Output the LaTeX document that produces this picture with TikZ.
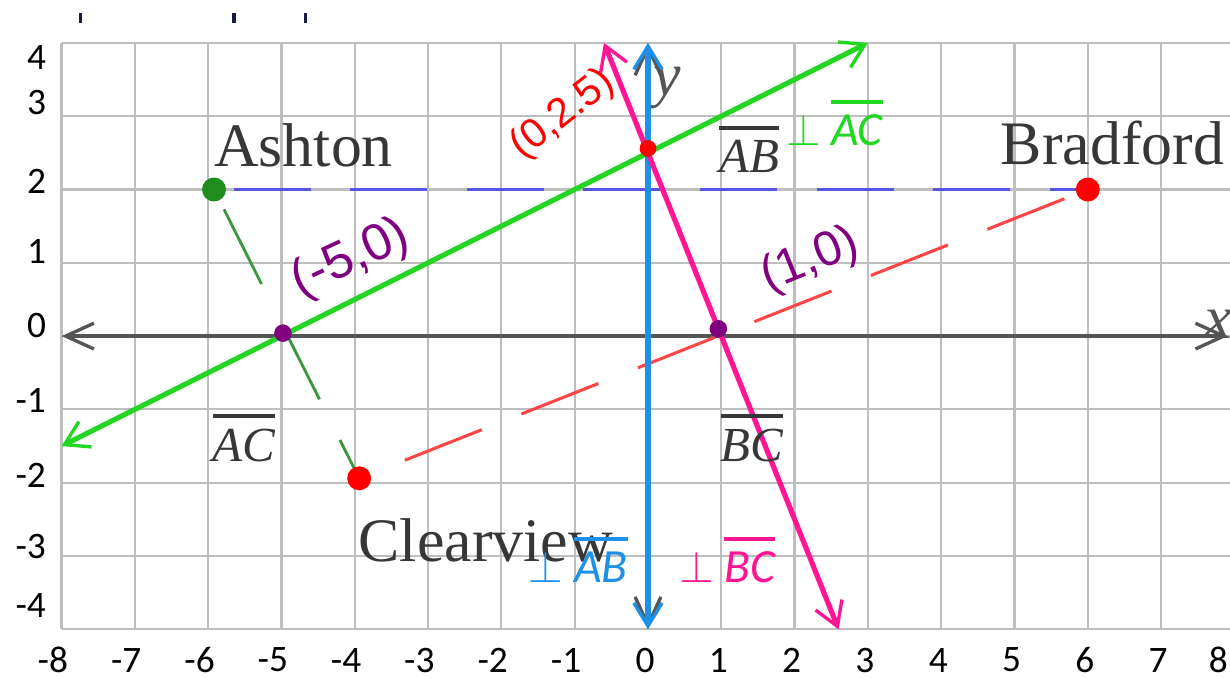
\documentclass[tikz,border=0pt]{standalone}
\usepackage{fontspec}
\setmainfont{Liberation Serif}
\newfontfamily\calfont{Carlito}
\newfontfamily\handfont{Liberation Sans}
\usetikzlibrary{arrows.meta}
\tikzset{every picture/.style={line width=0.75pt}}

\definecolor{gridgray}{RGB}{190,190,190}
\definecolor{axisgray}{RGB}{85,85,85}
\definecolor{labelgray}{RGB}{55,55,55}
\definecolor{linegreen}{RGB}{34,215,34}
\definecolor{linepink}{RGB}{255,20,147}
\definecolor{lineblue}{RGB}{30,144,230}
\definecolor{dashblue}{RGB}{85,85,225}
\definecolor{dashred}{RGB}{255,70,70}
\definecolor{dashgreen}{RGB}{60,150,60}
\definecolor{dotgreen}{RGB}{30,140,30}
\definecolor{handpurple}{RGB}{128,0,128}
\definecolor{marknavy}{RGB}{25,25,70}

% overlined segment name
\newcommand\segbar[1]{\vbox{\hrule height 1.5pt\kern 0.22em\hbox{#1}}}

\tikzset{
  town/.style={circle,fill,inner sep=0pt,minimum size=9.3pt},
  handdot/.style={circle,fill=handpurple,inner sep=0pt,minimum size=6.8pt},
  townname/.style={font=\fontsize{24}{28}\selectfont,text=labelgray,anchor=base west,inner sep=0pt},
  seglabel/.style={font=\fontsize{19}{22}\selectfont\itshape,text=labelgray,anchor=base,inner sep=0pt},
  perplabel/.style={font=\fontsize{18.5}{22}\selectfont\calfont\itshape,anchor=base west,inner sep=0pt},
  handlabel/.style={font=\handfont,inner sep=0pt},
  ticklabel/.style={font=\fontsize{14.5}{17}\selectfont\calfont,inner sep=0pt},
  axisname/.style={font=\fontsize{24}{28}\selectfont\itshape,text=axisgray,inner sep=0pt},
  barbs/.style={{Straight Barb[length=9pt,width=11pt,line width=1.3pt]}-{Straight Barb[length=9pt,width=11pt,line width=1.3pt]}},
  axisbarbs/.style={{Straight Barb[length=11pt,width=10pt,line width=1.3pt]}-{Straight Barb[length=11pt,width=10pt,line width=1.3pt]}}
}

\begin{document}
\begin{tikzpicture}
    \useasboundingbox (-8.84,-4.664) rectangle (7.94,4.585);

    % Grid and axes
    \draw[gridgray,line width=0.85pt] (-8,-4) grid (7.94,4);
    \coordinate (xleft) at (-8,0);
    \coordinate (xright) at (7.91,0);
    \coordinate (ytop) at (0,4);
    \coordinate (ybot) at (0,-4);
    \draw[axisgray,line width=1.6pt,axisbarbs] (xleft) -- (xright);
    \draw[axisgray,line width=1.6pt,axisbarbs] (ybot) -- (ytop);
    \node[axisname] (ylab) at (0.26,3.39) {y};
    \node[axisname] (xlab) at (7.78,0.16) {x};

    % Tick labels
    \foreach \v/\y in {4/3.80,3/3.18,2/2.11,1/1.16,0/0.14,-1/-0.88,-2/-1.90,-3/-2.87,-4/-3.67}
        \node[ticklabel,anchor=east] at (-8.2,\y) {\v};
    \foreach \n in {1,...,8}
        \node[ticklabel] at (-\n-0.04,-4.42) {\llap{-}\n};
    \foreach \n in {0,...,7}
        \node[ticklabel] at (\n-0.04,-4.42) {\n};
    \node[ticklabel] at (7.78,-4.42) {8};

    % Marks on top edge
    \draw[marknavy,line width=1.3pt] (-7.74,4.27) -- (-7.74,4.41);
    \draw[marknavy,line width=1.3pt] (-5.65,4.27) -- (-5.65,4.41);
    \draw[marknavy,line width=1.3pt] (-4.67,4.27) -- (-4.67,4.41);

    % Towns and roads
    \coordinate (A) at (-5.92,2);
    \coordinate (B) at (6,2);
    \coordinate (C) at (-3.94,-1.94);
    \draw[dashblue,line width=1.5pt,dash pattern=on 1.05cm off 0.54cm,dash phase=1.32cm] (A) -- (B);
    \draw[dashred,line width=1.2pt,dash pattern=on 1.13cm off 0.58cm,dash phase=1.04cm] (C) -- (B);
    \draw[dashgreen,line width=1.1pt,dash pattern=on 1.14cm off 0.62cm,dash phase=1.456cm] (A) -- (C);

    % Perpendicular bisectors
    \coordinate (ac1) at (-8,-1.5);
    \coordinate (ac2) at (3,4);
    \coordinate (bc1) at (-0.6,4);
    \coordinate (bc2) at (2.6,-4);
    \draw[linegreen,line width=2pt,barbs] (ac1) -- (ac2);
    \draw[lineblue,line width=2.4pt,barbs] (ybot) -- (ytop);
    \draw[linepink,line width=2pt,barbs] (bc1) -- (bc2);

    % Dots
    \node[town,fill=dotgreen] (ashton) at (A) {};
    \node[town,fill=red] (bradford) at (B) {};
    \node[town,fill=red] (clearview) at (C) {};
    \node[town,fill=red,minimum size=6.5pt] (meet) at (0,2.56) {};
    \node[handdot] (acx) at (-4.98,0.04) {};
    \node[handdot] (bcx) at (0.96,0.1) {};

    % Names
    \node[townname] (ashtonlab) at (-5.93,2.31) {Ashton};
    \node[townname] (bradfordlab) at (4.80,2.34) {Bradford};
    \node[townname] (clearviewlab) at (-3.96,-3.07) {Clearview};
    \node[seglabel] (aclab) at (-5.51,-1.71) {\segbar{AC}};
    \node[seglabel] (bclab) at (1.42,-1.71) {\segbar{BC}};
    \node[seglabel] (ablab) at (1.38,2.23) {\segbar{AB}};
    \node[perplabel,text=linegreen] (perpac) at (1.87,2.60) {$\perp$ \segbar{AC}};
    \node[perplabel,text=lineblue] (perpab) at (-1.64,-3.36) {$\perp$ \segbar{AB}};
    \node[perplabel,text=linepink] (perpbc) at (0.41,-3.36) {$\perp$ \segbar{BC}};

    % Handwritten points
    \node[handlabel,text=red,font=\handfont\fontsize{16}{19}\selectfont,rotate=38] (meetlab) at (-1.16,3.02) {(0,2.5)};
    \node[handlabel,text=handpurple,font=\handfont\fontsize{20}{24}\selectfont,rotate=25] (acxlab) at (-4.05,1.05) {(-5,0)};
    \node[handlabel,text=handpurple,font=\handfont\fontsize{19}{23}\selectfont,rotate=22] (bcxlab) at (2.21,1.03) {(1,0)};
\end{tikzpicture}
\end{document}
